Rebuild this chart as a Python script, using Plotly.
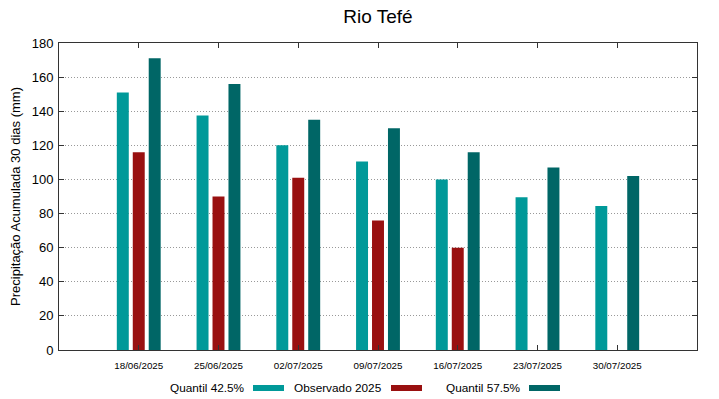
import plotly.graph_objects as go

categories = ["18/06/2025", "25/06/2025", "02/07/2025", "09/07/2025",
              "16/07/2025", "23/07/2025", "30/07/2025"]
q425 = [151, 137.5, 120, 110.5, 100, 89.5, 84.5]
obs2025 = [116, 90, 101, 76, 60, None, None]
q575 = [171, 156, 135, 130, 116, 107, 102]
y_ticks = [0, 20, 40, 60, 80, 100, 120, 140, 160, 180]

series = [
    ("Quantil 42.5%", q425, "#009999", -0.2),
    ("Observado 2025", obs2025, "#991010", 0.0),
    ("Quantil 57.5%", q575, "#006666", 0.2),
]

idx = list(range(len(categories)))
fig = go.Figure()
for name, vals, color, off in series:
    fig.add_trace(go.Bar(
        x=[i + off for i in idx], y=vals, name=name, width=0.15,
        marker=dict(color=color, line=dict(width=0)), showlegend=False,
    ))

font = "Liberation Sans, Arial, sans-serif"
fig.update_layout(
    width=719, height=399,
    margin=dict(l=59, r=22, t=43, b=49),
    paper_bgcolor="white", plot_bgcolor="white",
    font=dict(family=font, color="black"),
    title=dict(text="Rio Tefé", xref="paper", x=0.5, xanchor="center",
               y=0.96, yanchor="middle", font=dict(size=19, family=font)),
    barmode="overlay",
    xaxis=dict(range=[-1, 7], tickmode="array", tickvals=idx, ticktext=categories,
               tickfont=dict(size=9.8), ticks="inside", ticklen=5, tickcolor="#333",
               showline=True, linecolor="#333", linewidth=1, mirror="ticks",
               showgrid=False, zeroline=False, ticklabelstandoff=6),
    yaxis=dict(range=[0, 180], tickmode="array", tickvals=y_ticks,
               tickfont=dict(size=13), ticks="inside", ticklen=5, tickcolor="#333",
               showline=True, linecolor="#333", linewidth=1, mirror="ticks",
               showgrid=True, gridcolor="#999", griddash="1px,2px", gridwidth=1,
               zeroline=False, ticklabelstandoff=2,
               title=dict(text="Precipitação Acumulada 30 dias (mm)",
                          font=dict(size=13), standoff=8)),
)

# gnuplot-style legend: text followed by swatch
legend_items = [
    ("Quantil 42.5%", "#009999", 246.5, 253, 284),
    ("Observado 2025", "#991010", 384, 391, 422),
    ("Quantil 57.5%", "#006666", 522.5, 529, 560),
]
for text, color, tx, s0, s1 in legend_items:
    fig.add_annotation(text=text, xref="paper", yref="paper",
                       x=(tx - 59) / 638, y=-(387.5 - 350) / 307,
                       xanchor="right", yanchor="middle", showarrow=False,
                       font=dict(size=11.8, family=font))
    fig.add_shape(type="rect", xref="paper", yref="paper",
                  x0=(s0 - 59) / 638, x1=(s1 - 59) / 638,
                  y0=-(391 - 350) / 307, y1=-(385 - 350) / 307,
                  fillcolor=color, line=dict(width=0))

fig.write_html("out.html", config={"displayModeBar": False})
with open("out.html", encoding="utf-8") as f:
    html = f.read()
html = html.replace("<head>", "<head><style>html,body{margin:0;padding:0;}</style>", 1)
with open("out.html", "w", encoding="utf-8") as f:
    f.write(html)
